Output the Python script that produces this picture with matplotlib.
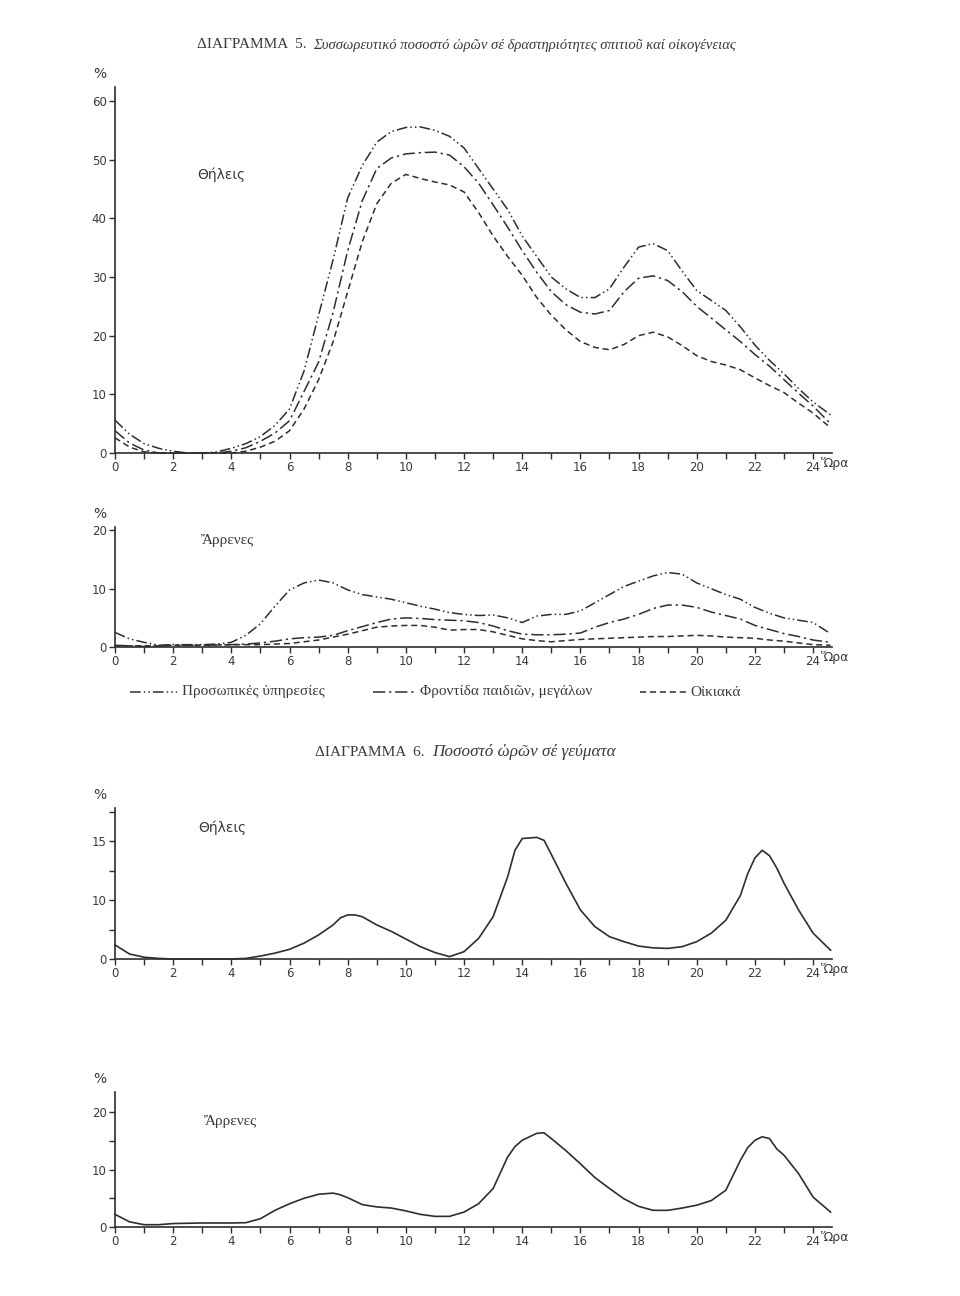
import matplotlib
matplotlib.use("Agg")
import matplotlib.pyplot as plt
from matplotlib.lines import Line2D

# ---- data ----
hours = [0, 0.5, 1, 1.5, 2, 2.5, 3, 3.5, 4, 4.5, 5, 5.5, 6, 6.5, 7, 7.5, 8, 8.5, 9, 9.5,
         10, 10.5, 11, 11.5, 12, 12.5, 13, 13.5, 14, 14.5, 15, 15.5, 16, 16.5, 17, 17.5,
         18, 18.5, 19, 19.5, 20, 20.5, 21, 21.5, 22, 22.5, 23, 23.5, 24, 24.6]

# Diagram 5, females (cumulative %)
f_personal = [5.6, 3.2, 1.6, 0.8, 0.3, 0.0, 0.0, 0.2, 0.8, 1.6, 2.8, 4.7, 7.5, 14.0, 23.5,
              33.0, 43.5, 49.0, 53.0, 54.8, 55.5, 55.6, 55.0, 54.0, 52.0, 48.5, 45.0, 41.5,
              37.0, 33.5, 30.0, 28.0, 26.5, 26.5, 28.0, 31.7, 35.1, 35.7, 34.5, 31.0, 27.7,
              26.0, 24.3, 21.5, 18.4, 15.8, 13.5, 11.0, 8.7, 6.5]
f_children = [3.8, 1.7, 0.5, 0.0, 0.0, 0.0, 0.0, 0.0, 0.3, 0.9, 2.0, 3.4, 5.5, 10.5, 15.5,
              24.0, 34.5, 43.0, 48.5, 50.3, 51.0, 51.2, 51.3, 50.8, 48.8, 46.0, 42.3, 38.5,
              34.5, 30.8, 27.5, 25.3, 24.0, 23.7, 24.3, 27.5, 29.8, 30.2, 29.4, 27.5, 25.0,
              23.0, 21.0, 19.0, 16.8, 14.8, 12.5, 10.2, 8.0, 5.0]
f_house = [2.6, 1.0, 0.2, 0.0, 0.0, 0.0, 0.0, 0.0, 0.0, 0.3, 1.0, 2.0, 3.8, 7.5, 12.5,
           19.0, 27.5, 36.0, 42.5, 46.0, 47.5, 46.8, 46.2, 45.7, 44.5, 41.0, 37.0, 33.5,
           30.3, 26.5, 23.5, 21.0, 19.0, 18.0, 17.6, 18.5, 20.0, 20.6, 19.8, 18.3, 16.6,
           15.6, 15.0, 14.2, 12.8, 11.5, 10.3, 8.5, 6.8, 4.3]

# Diagram 5, males
m_personal = [2.5, 1.4, 0.8, 0.3, 0.4, 0.4, 0.4, 0.5, 0.8, 2.0, 4.0, 7.0, 9.8, 11.0, 11.5,
              11.0, 9.8, 9.0, 8.6, 8.2, 7.6, 7.0, 6.5, 5.9, 5.6, 5.4, 5.5, 5.0, 4.2, 5.3,
              5.6, 5.6, 6.2, 7.6, 9.0, 10.4, 11.3, 12.2, 12.8, 12.5, 11.0, 10.0, 9.0, 8.2,
              6.8, 5.8, 5.0, 4.6, 4.2, 2.3]
m_children = [0.3, 0.2, 0.1, 0.2, 0.3, 0.3, 0.3, 0.35, 0.4, 0.5, 0.7, 1.0, 1.4, 1.6, 1.7,
              2.0, 2.8, 3.5, 4.2, 4.8, 5.0, 4.9, 4.7, 4.6, 4.5, 4.2, 3.6, 2.8, 2.2, 2.1,
              2.1, 2.2, 2.4, 3.4, 4.2, 4.8, 5.6, 6.6, 7.2, 7.2, 6.8, 6.0, 5.4, 4.8, 3.7,
              3.0, 2.3, 1.8, 1.2, 0.8]
m_house = [0.2, 0.2, 0.2, 0.2, 0.3, 0.3, 0.3, 0.35, 0.4, 0.4, 0.4, 0.5, 0.6, 0.9, 1.2,
           1.7, 2.2, 2.8, 3.4, 3.6, 3.7, 3.7, 3.4, 2.9, 3.0, 3.0, 2.6, 2.0, 1.4, 1.1,
           0.9, 1.1, 1.3, 1.4, 1.5, 1.6, 1.7, 1.8, 1.8, 1.9, 2.0, 1.9, 1.7, 1.6, 1.5,
           1.2, 1.0, 0.7, 0.4, 0.3]

# Diagram 6, meals
meal_hours = [0, 0.5, 1, 1.5, 2, 3, 4, 4.5, 5, 5.5, 6, 6.5, 7, 7.5, 7.75, 8, 8.25, 8.5, 9,
              9.5, 10, 10.5, 11, 11.5, 12, 12.5, 13, 13.5, 13.75, 14, 14.5, 14.75, 15,
              15.5, 16, 16.5, 17, 17.5, 18, 18.5, 19, 19.5, 20, 20.5, 21, 21.5, 21.75, 22,
              22.25, 22.5, 22.75, 23, 23.5, 24, 24.6]
meal_f = [2.4, 0.85, 0.3, 0.1, 0.0, 0.0, 0.0, 0.1, 0.5, 1.0, 1.65, 2.7, 4.1, 5.8, 7.0,
          7.5, 7.5, 7.2, 5.8, 4.7, 3.4, 2.1, 1.1, 0.4, 1.25, 3.5, 7.2, 14.0, 18.5, 20.5,
          20.7, 20.2, 17.8, 12.9, 8.35, 5.5, 3.8, 2.95, 2.2, 1.9, 1.8, 2.1, 2.95, 4.4,
          6.6, 10.8, 14.5, 17.2, 18.5, 17.6, 15.5, 12.9, 8.35, 4.4, 1.5]
meal_m = [2.2, 0.9, 0.4, 0.4, 0.6, 0.7, 0.7, 0.75, 1.45, 2.9, 4.05, 5.0, 5.7, 5.9, 5.6,
          5.1, 4.5, 3.9, 3.5, 3.3, 2.8, 2.2, 1.85, 1.85, 2.6, 4.05, 6.7, 12.2, 14.0, 15.1,
          16.3, 16.4, 15.4, 13.3, 11.0, 8.6, 6.7, 4.9, 3.6, 2.9, 2.9, 3.3, 3.8, 4.6, 6.4,
          11.6, 13.8, 15.1, 15.7, 15.4, 13.6, 12.5, 9.3, 5.2, 2.6]

legend_labels = ["Προσωπικές ὑπηρεσίες", "Φροντίδα παιδιῶν, μεγάλων", "Οἰκιακά"]
hour_labels = [str(h) if h % 2 == 0 else "" for h in range(25)]
p3_ticks = [0, 5, 10, 15, 20, 25]
p3_ticklabels = ["0", "", "10", "", "15", ""]   # printed this way on the page
p4_ticks = [0, 5, 10, 15, 20]
p4_ticklabels = ["0", "", "10", "", "20"]

ink = "#2e2e2e"
txt = "#3a3a3a"
sans = ["DejaVu Sans"]
serif = ["Liberation Serif", "DejaVu Serif"]

ls_personal = (0, (7, 2, 1, 2, 1, 2))
ls_children = (0, (8, 2.5, 1.5, 2.5))
ls_house = (0, (4, 2.5))

W, H = 960, 1296
fig = plt.figure(figsize=(W / 100, H / 100), dpi=100)


def make_axes(top, bottom, ymax, yticks, yticklabels):
    left, right = 115, 832
    ax = fig.add_axes([left / W, 1 - bottom / H, (right - left) / W, (bottom - top) / H])
    ax.set_xlim(0, 24.65)
    ax.set_ylim(0, ymax)
    for s in ["top", "right"]:
        ax.spines[s].set_visible(False)
    for s in ["left", "bottom"]:
        ax.spines[s].set_color(ink)
        ax.spines[s].set_linewidth(1.2)
    ax.set_xticks(range(25))
    ax.set_xticklabels(hour_labels)
    ax.set_yticks(yticks)
    ax.set_yticklabels(yticklabels)
    ax.tick_params(direction="out", length=4, width=1, color=ink, labelcolor=txt,
                   labelsize=8.5, pad=2)
    ax.patch.set_visible(False)
    ax.annotate("Ὥρα", xy=(24, 0), xytext=(6, -3), textcoords="offset points",
                ha="left", va="top", fontsize=9, color=txt, family=sans,
                annotation_clip=False)
    # percent sign above the y axis
    ax.annotate("%", xy=(0, 1), xycoords="axes fraction", xytext=(-11, 4),
                textcoords="offset points", ha="center", va="bottom", fontsize=10,
                color=txt, family=sans)
    return ax


def draw(ax, x, ys):
    for y, ls in zip(ys, [ls_personal, ls_children, ls_house]):
        ax.plot(x, y, color=ink, lw=1.1, linestyle=ls, clip_on=False)


# Diagram 5 title
fig.text(197 / W, 1 - 45 / H, "ΔΙΑΓΡΑΜΜΑ  5.", family=serif, fontsize=11, color=txt,
         ha="left", va="center")
fig.text(313 / W, 1 - 45 / H,
         "Συσσωρευτικό ποσοστό ὡρῶν σέ δραστηριότητες σπιτιοῦ καί οἰκογένειας",
         family=serif, style="italic", fontsize=10.5, color=txt, ha="left", va="center")

ax1 = make_axes(87, 453, 62.4, [0, 10, 20, 30, 40, 50, 60],
                ["0", "10", "20", "30", "40", "50", "60"])
draw(ax1, hours, [f_personal, f_children, f_house])
fig.text(197 / W, 1 - 175 / H, "Θήλεις", family=sans, fontsize=10, color=txt, va="center")

ax2 = make_axes(527, 647, 20.6, [0, 10, 20], ["0", "10", "20"])
draw(ax2, hours, [m_personal, m_children, m_house])
fig.text(200 / W, 1 - 540 / H, "Ἄρρενες", family=serif, fontsize=11, color=txt, va="center")

# legend
leg_y = 1 - 692 / H
for (x0, x1, xt), ls, lab in zip([(130, 177, 182), (373, 417, 420), (640, 687, 690)],
                                 [ls_personal, ls_children, ls_house], legend_labels):
    fig.add_artist(Line2D([x0 / W, x1 / W], [leg_y, leg_y], color=ink, lw=1.1,
                          linestyle=ls))
    fig.text(xt / W, leg_y, lab, family=serif, fontsize=11, color=txt, ha="left",
             va="center")

# Diagram 6 title
fig.text(315 / W, 1 - 752 / H, "ΔΙΑΓΡΑΜΜΑ  6.", family=serif, fontsize=11, color=txt,
         ha="left", va="center")
fig.text(432 / W, 1 - 752 / H, "Ποσοστό ὡρῶν σέ γεύματα", family=serif, style="italic",
         fontsize=12.3, color=txt, ha="left", va="center")

ax3 = make_axes(808, 959, 25.7, p3_ticks, p3_ticklabels)
ax3.plot(meal_hours, meal_f, color=ink, lw=1.2, clip_on=False)
fig.text(198 / W, 1 - 828 / H, "Θήλεις", family=sans, fontsize=10, color=txt, va="center")

ax4 = make_axes(1092, 1227, 23.5, p4_ticks, p4_ticklabels)
ax4.plot(meal_hours, meal_m, color=ink, lw=1.2, clip_on=False)
fig.text(203 / W, 1 - 1122 / H, "Ἄρρενες", family=serif, fontsize=11, color=txt,
         va="center")

fig.savefig("out.png", dpi=100, facecolor="white")
